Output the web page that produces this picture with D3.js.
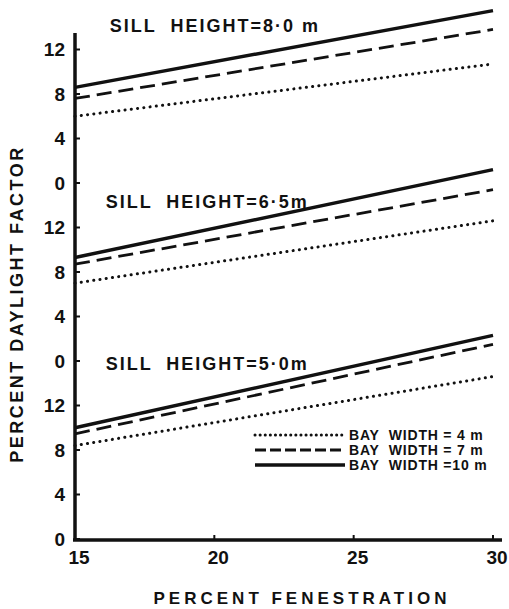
<!DOCTYPE html>
<html lang="en">
<head>
<meta charset="UTF-8">
<title>Daylight factor vs fenestration</title>
<style>
    body { margin: 0; background: #fff; }
    svg text { font-family: "Liberation Sans", Arial, sans-serif; font-weight: bold; fill: #111; }
</style>
</head>
<body>
<div id="chart"></div>
<script src="https://d3js.org/d3.v7.min.js"></script>
<script>
    // x values (percent fenestration) where each line is read
    const fenestration = [15, 30];
    const xTicks = [15, 20, 25, 30];
    const yTicks = [0, 4, 8, 12];

    // panels from top to bottom
    const panelTitles = ["SILL  HEIGHT=8·0 m", "SILL  HEIGHT=6·5m", "SILL  HEIGHT=5·0m"];
    const bay4 = [[6.0, 10.7], [7.0, 12.6], [8.4, 14.6]];
    const bay7 = [[7.6, 13.8], [8.7, 15.4], [9.45, 17.5]];
    const bay10 = [[8.6, 15.5], [9.3, 17.2], [10.0, 18.3]];
    const legendLabels = ["BAY  WIDTH = 4 m", "BAY  WIDTH = 7 m", "BAY  WIDTH =10 m"];

    const width = 509, height = 609;
    const svg = d3.select("#chart").append("svg")
        .attr("width", width).attr("height", height);

    const x = d3.scaleLinear().domain([15, 30]).range([75, 493]);
    const panelBottoms = [183, 361, 539];
    const panelH = 178;
    const yScales = panelBottoms.map(b => d3.scaleLinear().domain([0, 16]).range([b, b - panelH]));

    const styles = [
        { data: bay4, width: 3, dash: "0.1 6.2", cap: "round" },
        { data: bay7, width: 2.8, dash: "15 7", cap: "butt" },
        { data: bay10, width: 3.4, dash: null, cap: "butt" }
    ];

    const line = (ys, y) => d3.line().x((d, i) => x(fenestration[i])).y(d => y(d))(ys);

    yScales.forEach((y, p) => {
        styles.forEach(s => {
            svg.append("path")
                .attr("d", line(s.data[p], y))
                .attr("fill", "none")
                .attr("stroke", "#111")
                .attr("stroke-width", s.width)
                .attr("stroke-dasharray", s.dash)
                .attr("stroke-linecap", s.cap);
        });

        // y ticks
        const g = svg.append("g").attr("transform", "translate(75,0)");
        g.selectAll("line").data(yTicks).enter().append("line")
            .attr("x1", 0).attr("x2", 5)
            .attr("y1", d => y(d)).attr("y2", d => y(d))
            .attr("stroke", "#111").attr("stroke-width", 2);
        g.selectAll("text").data(yTicks).enter().append("text")
            .attr("x", -10).attr("y", d => y(d))
            .attr("dy", "0.36em")
            .attr("text-anchor", "end")
            .attr("font-size", 19)
            .text(d => d);
    });

    // panel titles
    const titlePos = [[16.25, 14.2], [16.1, 14.3], [16.1, 15.8]];
    panelTitles.forEach((t, p) => {
        svg.append("text")
            .attr("x", x(titlePos[p][0]))
            .attr("y", yScales[p](titlePos[p][1]))
            .attr("dy", "0.36em")
            .attr("font-size", 18)
            .attr("letter-spacing", 2)
            .style("white-space", "pre")
            .text(t);
    });

    // axis lines
    svg.append("line")
        .attr("x1", 75).attr("x2", 75).attr("y1", 33).attr("y2", 541)
        .attr("stroke", "#111").attr("stroke-width", 3.5);
    svg.append("line")
        .attr("x1", 73).attr("x2", 502).attr("y1", 540).attr("y2", 540)
        .attr("stroke", "#111").attr("stroke-width", 3.5);

    // x ticks
    svg.selectAll(".xt").data(xTicks.slice(1)).enter().append("line")
        .attr("x1", d => x(d)).attr("x2", d => x(d))
        .attr("y1", 540).attr("y2", 535)
        .attr("stroke", "#111").attr("stroke-width", 2);
    svg.selectAll(".xl").data(xTicks).enter().append("text")
        .attr("x", d => x(d) + 4).attr("y", 564)
        .attr("text-anchor", "middle")
        .attr("font-size", 19)
        .text(d => d);

    // axis titles
    svg.append("text")
        .attr("x", 302).attr("y", 604)
        .attr("text-anchor", "middle")
        .attr("font-size", 17)
        .attr("letter-spacing", 4)
        .text("PERCENT FENESTRATION");
    svg.append("text")
        .attr("transform", "translate(23,304) rotate(-90)")
        .attr("text-anchor", "middle")
        .attr("font-size", 18)
        .attr("letter-spacing", 2.5)
        .text("PERCENT DAYLIGHT FACTOR");

    // legend
    const legendY = [435, 450, 465];
    styles.forEach((s, i) => {
        svg.append("line")
            .attr("x1", 255).attr("x2", 345)
            .attr("y1", legendY[i]).attr("y2", legendY[i])
            .attr("stroke", "#111")
            .attr("stroke-width", s.width)
            .attr("stroke-dasharray", s.dash === "15 7" ? "11 4" : (s.dash ? "0.1 5" : null))
            .attr("stroke-linecap", s.cap);
        svg.append("text")
            .attr("x", 349).attr("y", legendY[i])
            .attr("dy", "0.36em")
            .attr("font-size", 14)
            .attr("letter-spacing", 0.8)
            .style("white-space", "pre")
            .text(legendLabels[i]);
    });
</script>
</body>
</html>
